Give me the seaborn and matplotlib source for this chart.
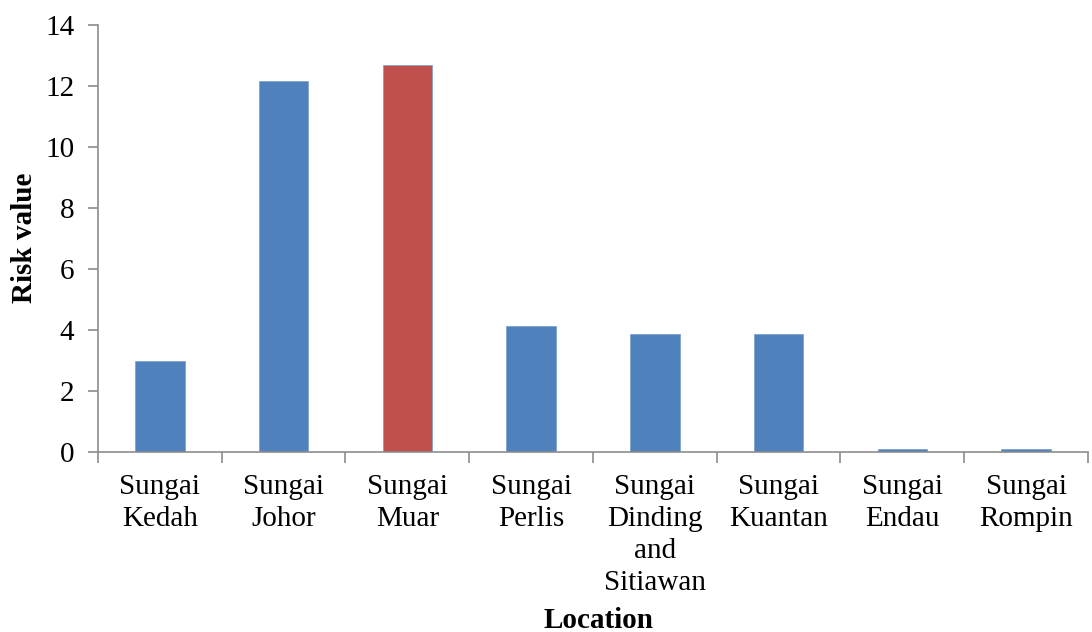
import matplotlib
matplotlib.use("Agg")
import matplotlib.pyplot as plt
from matplotlib.ticker import FixedLocator, MultipleLocator
import seaborn as sns
import pandas as pd

locations = ["Sungai\nKedah", "Sungai\nJohor", "Sungai\nMuar", "Sungai\nPerlis",
             "Sungai\nDinding\nand\nSitiawan", "Sungai\nKuantan", "Sungai\nEndau",
             "Sungai\nRompin"]
risk_values = [3.0, 12.15, 12.7, 4.13, 3.87, 3.87, 0.1, 0.1]
highlight = ["no", "no", "yes", "no", "no", "no", "no", "no"]
colors = {"no": "#4F81BD", "yes": "#C0504D"}

df = pd.DataFrame({"Location": locations, "Risk": risk_values, "Group": highlight})

sns.set_style("white")
plt.rcParams["font.family"] = ["Liberation Serif", "DejaVu Serif"]
plt.rcParams["text.color"] = "black"
plt.rcParams["xtick.color"] = "black"
plt.rcParams["ytick.color"] = "black"
plt.rcParams["axes.labelcolor"] = "black"

fig = plt.figure(figsize=(10.92, 6.32), dpi=100)
ax = fig.add_axes([0.0897, 0.2848, 0.9066, 0.6756])

sns.barplot(data=df, x="Location", y="Risk", hue="Group", palette=colors,
            width=0.4, dodge=False, legend=False, ax=ax, saturation=1,
            edgecolor="#7FA3D0", linewidth=0.6)

ax.set_xlim(-0.5, len(locations) - 0.5)
ax.set_ylim(0, 14)
ax.yaxis.set_major_locator(MultipleLocator(2))

spine_color = "#8C8C8C"
for side in ("top", "right"):
    ax.spines[side].set_visible(False)
for side in ("left", "bottom"):
    ax.spines[side].set_color(spine_color)
    ax.spines[side].set_linewidth(1.2)

ax.xaxis.set_minor_locator(FixedLocator([i - 0.5 for i in range(len(locations) + 1)]))
ax.tick_params(axis="x", which="major", length=0, pad=16, labelsize=21,
               labelcolor="black")
ax.tick_params(axis="x", which="minor", length=8, width=1.2, color=spine_color,
               direction="out", bottom=True)
ax.tick_params(axis="y", which="major", length=7, width=1.2, color=spine_color,
               direction="out", left=True, labelsize=21, pad=10,
               labelcolor="black")
for lbl in ax.get_xticklabels():
    lbl.set_linespacing(1.3)

ax.set_xlabel("")
ax.set_ylabel("")
fig.text(598 / 1092, 1 - 620 / 632, "Location", fontsize=21, fontweight="bold",
         ha="center", va="center", color="black")
fig.text(25 / 1092, 1 - 238 / 632, "Risk value", fontsize=21, fontweight="bold",
         ha="center", va="center", rotation=90, color="black")

fig.savefig("out.png", dpi=100)
